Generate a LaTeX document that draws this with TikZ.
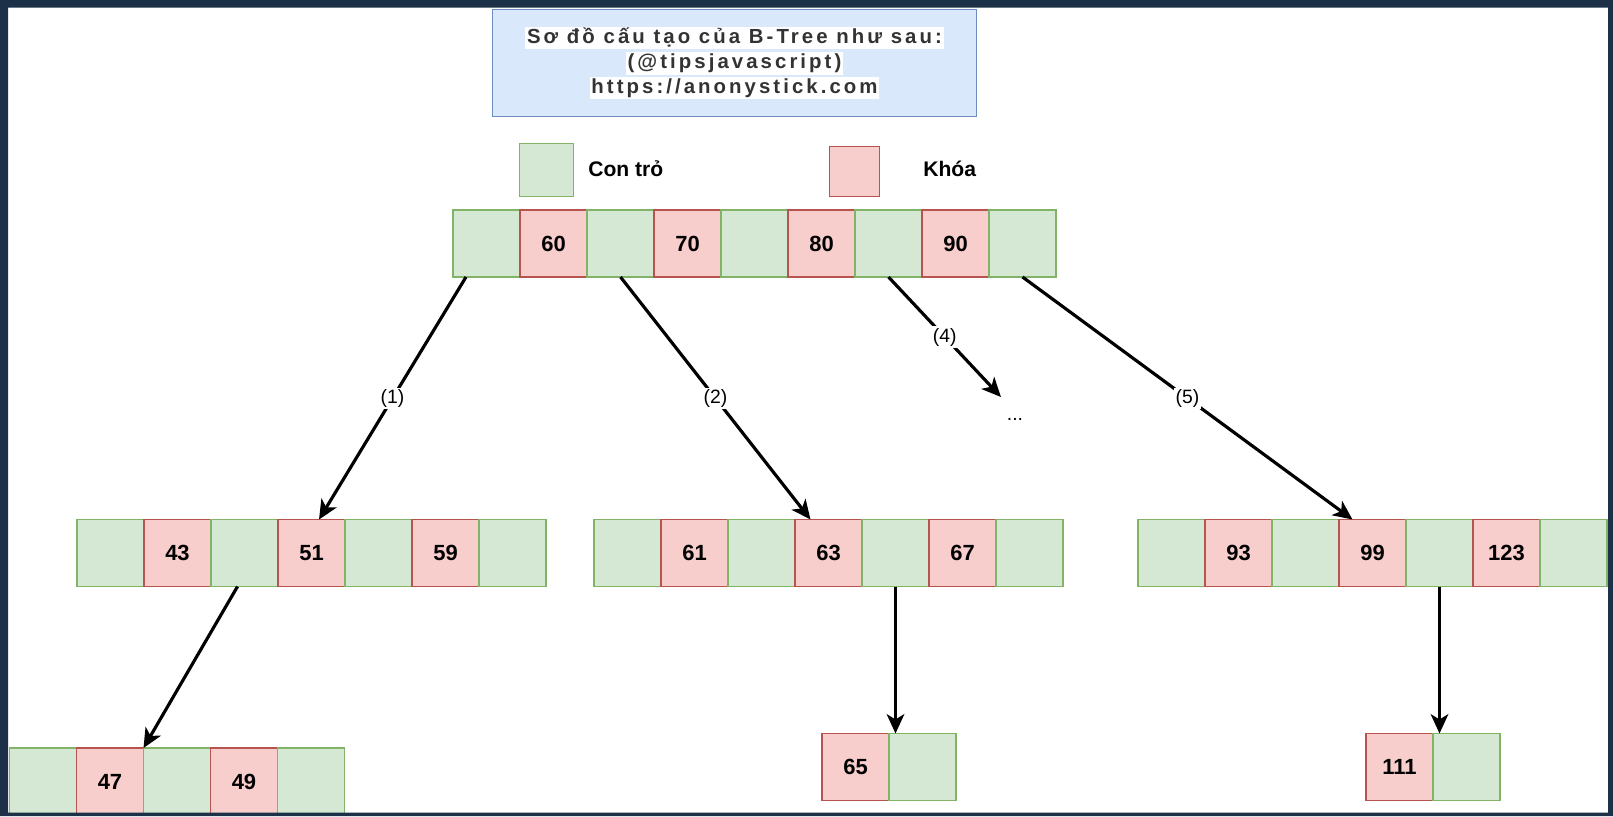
\documentclass[tikz,border=0pt]{standalone}
\usepackage{fontspec}
\setmainfont{Liberation Sans}
\newfontfamily\titlefont[LetterSpace=15]{Liberation Sans}
\usetikzlibrary{arrows.meta,calc}

\definecolor{ptrfill}{HTML}{D5E8D4}
\definecolor{ptrline}{HTML}{82B366}
\definecolor{keyfill}{HTML}{F8CECC}
\definecolor{keyline}{HTML}{B85450}
\definecolor{notefill}{HTML}{DAE8FC}
\definecolor{noteline}{HTML}{6C8EBF}
\definecolor{framecol}{HTML}{1C3148}
\setlength{\fboxsep}{1pt}

\tikzset{
  cellbox/.style={minimum size=1.34cm, inner sep=0pt, outer sep=0pt, line width=0.6pt, font=\bfseries\fontsize{12.5}{14}\selectfont},
  ptrcell/.style={cellbox, draw=ptrline, fill=ptrfill},
  keycell/.style={cellbox, draw=keyline, fill=keyfill},
  ptrlink/.style={->, line width=1.8pt},
  lbl/.style={fill=white, inner sep=1pt, font=\fontsize{11}{13}\selectfont}
}

% one B-tree node: name, left x, centre y, keys
\newcommand\btnode[4]{%
  \node [ptrcell] (#1-p0) at ({#2+33.5},#3) {};
  \foreach \k [count=\i] in {#4} {
    \node [keycell] (#1-k\i) at ({#2+134*\i-33.5},#3) {\k};
    \node [ptrcell] (#1-p\i) at ({#2+134*\i+33.5},#3) {};
  }%
}

\begin{document}
\begin{tikzpicture}[x=0.02cm, y=-0.02cm, >={Stealth[length=11pt,width=10pt,inset=3pt]}]
    % Title and legend
    \node [draw=noteline, fill=notefill, line width=0.6pt, minimum width=9.67cm, minimum height=2.14cm,
           align=center, text=black!80, font=\titlefont\bfseries\fontsize{11.6}{14}\selectfont] (title) at (734.5,62.8)
      {\colorbox{white}{Sơ đồ cấu tạo của B-Tree như sau:}\\
       \colorbox{white}{(@tipsjavascript)}\\
       \colorbox{white}{https://anonystick.com}};
    \node [ptrcell, minimum size=1.07cm] (leg-p) at (546.3,169.8) {};
    \node [keycell, minimum size=1.01cm] (leg-k) at (854.3,171.3) {};
    \node [anchor=west, inner sep=0pt, font=\bfseries\fontsize{12}{14}\selectfont] (leg-ptxt) at (588,169) {Con trỏ};
    \node [anchor=west, inner sep=0pt, font=\bfseries\fontsize{12}{14}\selectfont] (leg-ktxt) at (923,169) {Khóa};

    % Nodes {r, a, b, c, d, e, f}
    \btnode{r}{453}{243.5}{60,70,80,90}
    \btnode{a}{77}{553}{43,51,59}
    \btnode{b}{594}{553}{61,63,67}
    \btnode{c}{1138}{553}{93,99,123}
    \btnode{d}{9.5}{781.5}{47,49}
    \node [keycell] (e-k1) at (855.5,767) {65};
    \node [ptrcell] (e-p1) at (922.5,767) {};
    \node [keycell] (f-k1) at (1399.5,767) {111};
    \node [ptrcell] (f-p1) at (1466.5,767) {};

    % Paths
    \coordinate (more) at (1001,397);
    \node [font=\fontsize{11}{13}\selectfont] (dots) at (1015,419) {...};
    \draw [ptrlink] ($(r-p0.south)+(-20.5,0)$) -- node [lbl] {(1)} ($(a-k2.north)+(7.5,0)$);
    \draw [ptrlink] (r-p1.south) -- node [lbl] {(2)} ($(b-k2.north)+(-18,0)$);
    \draw [ptrlink] (r-p3.south) -- node [lbl] {(4)} (more);
    \draw [ptrlink] (r-p4.south) -- node [lbl] {(5)} ($(c-k2.north)+(-20,0)$);
    \draw [ptrlink] ($(a-p1.south)+(-7,0)$) -- (d-k1.north east);
    \draw [ptrlink] (b-p2.south) -- (b-p2.south |- e-k1.north);
    \draw [ptrlink] (c-p2.south) -- (c-p2.south |- f-k1.north);

    % screen frame
    \fill [framecol, even odd rule] (0,0) rectangle (1613,816) (8,7.5) rectangle (1608,812.5);
\end{tikzpicture}
\end{document}
